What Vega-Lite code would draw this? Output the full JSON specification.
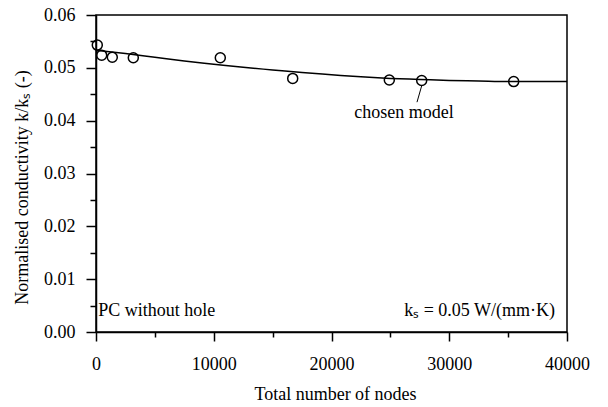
{
  "$schema": "https://vega.github.io/schema/vega-lite/v6.json",
  "width": 471,
  "height": 317,
  "autosize": {"type": "none"},
  "padding": {"left": 96, "top": 15, "right": 41, "bottom": 75},
  "background": "white",
  "config": {
    "font": "Liberation Serif",
    "view": {"stroke": "black", "strokeWidth": 1.5},
    "axis": {
      "domainColor": "black", "domainWidth": 1.5,
      "tickColor": "black", "tickWidth": 1.5,
      "labelColor": "black", "titleColor": "black",
      "labelFont": "Liberation Serif", "titleFont": "Liberation Serif",
      "labelFontSize": 18, "titleFontSize": 18, "titleFontWeight": "normal",
      "grid": false
    }
  },
  "datasets": {
    "points": [
      {"nodes": 110, "k": 0.0543},
      {"nodes": 484, "k": 0.0524},
      {"nodes": 1384, "k": 0.0520},
      {"nodes": 3168, "k": 0.0519},
      {"nodes": 10556, "k": 0.0519},
      {"nodes": 16705, "k": 0.0480},
      {"nodes": 24910, "k": 0.0477},
      {"nodes": 27660, "k": 0.0476},
      {"nodes": 35473, "k": 0.0474}
    ],
    "curve": [
      {"nodes": 0, "k": 0.0533},
      {"nodes": 2500, "k": 0.0527},
      {"nodes": 5000, "k": 0.0520},
      {"nodes": 7500, "k": 0.0513},
      {"nodes": 10000, "k": 0.0507},
      {"nodes": 12500, "k": 0.0501},
      {"nodes": 15000, "k": 0.0496},
      {"nodes": 17500, "k": 0.0491},
      {"nodes": 20000, "k": 0.0487},
      {"nodes": 22500, "k": 0.0483},
      {"nodes": 25000, "k": 0.0480},
      {"nodes": 27500, "k": 0.0478},
      {"nodes": 30000, "k": 0.0476},
      {"nodes": 32500, "k": 0.0475},
      {"nodes": 35000, "k": 0.0474},
      {"nodes": 37500, "k": 0.0474},
      {"nodes": 40000, "k": 0.0474}
    ],
    "leader": [
      {"x1": 27260, "y1": 0.0435, "x2": 27660, "y2": 0.0466}
    ],
    "labels": [
      {"nodes": 26160, "k": 0.0415, "text": "chosen model", "align": "center"},
      {"nodes": 200, "k": 0.0040, "text": "PC without hole", "align": "left"},
      {"nodes": 38980, "k": 0.0040, "text": "kₛ = 0.05 W/(mm·K)", "align": "right"}
    ]
  },
  "encoding": {
    "x": {
      "field": "nodes", "type": "quantitative",
      "scale": {"domain": [0, 40000], "nice": false, "zero": false},
      "axis": {
        "title": "Total number of nodes",
        "values": [0, 5000, 10000, 15000, 20000, 25000, 30000, 35000, 40000],
        "labelExpr": "datum.value % 10000 === 0 ? format(datum.value, 'd') : ''",
        "tickSize": {"condition": {"test": "datum.value % 10000 === 0", "value": 9}, "value": 5},
        "labelPadding": 14,
        "titlePadding": 12,
        "titleX": 239,
        "labelFlush": false
      }
    },
    "y": {
      "field": "k", "type": "quantitative",
      "scale": {"domain": [0, 0.06], "nice": false, "zero": false},
      "axis": {
        "title": "Normalised conductivity k/kₛ (-)",
        "values": [0, 0.005, 0.01, 0.015, 0.02, 0.025, 0.03, 0.035, 0.04, 0.045, 0.05, 0.055, 0.06],
        "labelExpr": "round(datum.value * 1000) % 10 === 0 ? format(datum.value, '.2f') : ''",
        "tickSize": {"condition": {"test": "round(datum.value * 1000) % 10 === 0", "value": 10}, "value": 6},
        "labelPadding": 11,
        "titlePadding": 12,
        "titleY": 172,
        "labelFlush": false
      }
    }
  },
  "layer": [
    {
      "data": {"name": "curve"},
      "mark": {"type": "line", "color": "black", "strokeWidth": 1.5, "interpolate": "monotone", "clip": true}
    },
    {
      "data": {"name": "points"},
      "mark": {"type": "point", "shape": "circle", "filled": false, "color": "black", "strokeWidth": 1.5, "size": 100, "opacity": 1}
    },
    {
      "data": {"name": "leader"},
      "mark": {"type": "rule", "color": "black", "strokeWidth": 1},
      "encoding": {
        "x": {"field": "x1", "type": "quantitative"},
        "y": {"field": "y1", "type": "quantitative"},
        "x2": {"field": "x2"},
        "y2": {"field": "y2"}
      }
    },
    {
      "data": {"name": "labels"},
      "transform": [{"filter": "datum.align === 'center'"}],
      "mark": {"type": "text", "fontSize": 18, "color": "black", "align": "center", "baseline": "middle", "font": "Liberation Serif"},
      "encoding": {"text": {"field": "text"}}
    },
    {
      "data": {"name": "labels"},
      "transform": [{"filter": "datum.align === 'left'"}],
      "mark": {"type": "text", "fontSize": 18, "color": "black", "align": "left", "baseline": "middle", "font": "Liberation Serif"},
      "encoding": {"text": {"field": "text"}}
    },
    {
      "data": {"name": "labels"},
      "transform": [{"filter": "datum.align === 'right'"}],
      "mark": {"type": "text", "fontSize": 18, "color": "black", "align": "right", "baseline": "middle", "font": "Liberation Serif"},
      "encoding": {"text": {"field": "text"}}
    }
  ]
}
